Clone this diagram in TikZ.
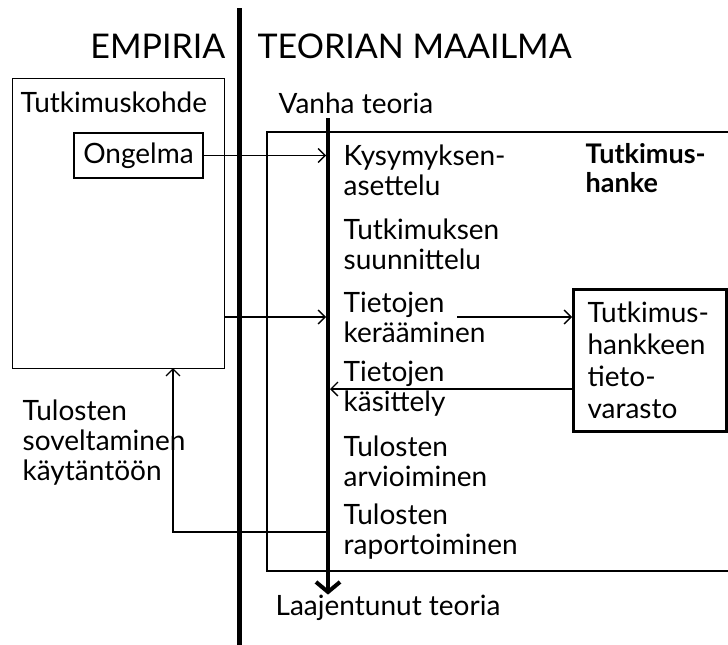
\documentclass[tikz,border=0pt]{standalone}
\usepackage{fontspec}
\setmainfont{Lato}
\usetikzlibrary{arrows.meta,positioning}

\begin{document}
\begin{tikzpicture}[x=1pt, y=-1pt, line width=1.3pt,
		txt/.style={anchor=west, align=left, inner sep=0pt, font=\fontsize{28}{30}\selectfont},
		head/.style={inner sep=0pt, font=\fontsize{34}{36}\selectfont},
		lnk/.style={-{Straight Barb[length=7pt,width=14pt]}}]
	\useasboundingbox (0,0) rectangle (728,645);
	% raja empirian ja teorian valilla
	\coordinate (rtop) at (239,8);
	\coordinate (rbot) at (239,645);
	\draw[line width=5pt] (rtop) -- (rbot);
	\node[head, anchor=east] (emp) at (226,46) {EMPIRIA};
	\node[head, anchor=west] (teo) at (257,46) {TEORIAN MAAILMA};
	% tutkimuskohde
	\node[draw, anchor=north west, minimum width=212pt, minimum height=290pt] (kohde) at (12,78) {};
	\node[txt] (kohdet) at (20,102) {Tutkimuskohde};
	\node[draw, txt, anchor=center, minimum width=129pt, minimum height=45pt] (ong) at (138.5,155.5) {Ongelma};
	% tutkimushanke
	\draw (728,132) -| (267,571) -- (728,571);
	\node[txt, font=\bfseries\fontsize{27}{29}\selectfont] (hanke) at (585,168) {Tutkimus-\\hanke};
	\node[txt] (vanha) at (278,103) {Vanha teoria};
	\node[txt] (laaj) at (275,608) {Laajentunut teoria};
	\node[txt] (kys) at (343,170) {Kysymyksen-\\asettelu};
	\node[txt] (suu) at (343,244) {Tutkimuksen\\suunnittelu};
	\node[txt] (ker) at (343,317) {Tietojen\\kerääminen};
	\node[txt] (kas) at (343,389) {Tietojen\\käsittely};
	\node[txt] (arv) at (343,461) {Tulosten\\arvioiminen};
	\node[txt] (rap) at (343,532) {Tulosten\\raportoiminen};
	\node[draw, line width=3pt, anchor=north west, minimum width=153pt, minimum height=142pt,
		inner xsep=14pt, text width=125pt, align=left, font=\fontsize{28}{32}\selectfont] (varasto) at (572,288)
		{Tutkimus-\\hankkeen\\tieto-\\varasto};
	\node[txt] (sov) at (22,443) {Tulosten\\soveltaminen\\käytäntöön};
	% vanhasta teoriasta laajentuneeseen
	\coordinate (vt) at (328,118);
	\draw[line width=4pt, -{Straight Barb[length=10pt,width=24pt]}] (vt) -- (vt |- laaj.north);
	% nuolet
	\coordinate (kers) at (457,317);
	\coordinate (paluu) at (173,368);
	\draw[lnk] (ong.east) -- ([xshift=-2pt]vt |- ong.east);
	\draw[lnk] (kohde.east |- ker) -- ([xshift=-2pt]vt |- ker);
	\draw[lnk] (kers) -- (varasto.west |- kers);
	\draw[lnk] (varasto.west |- kas) -- ([xshift=2pt]vt |- kas);
	\draw[lnk] ([xshift=-2pt]vt |- rap) -| (paluu);
\end{tikzpicture}
\end{document}
